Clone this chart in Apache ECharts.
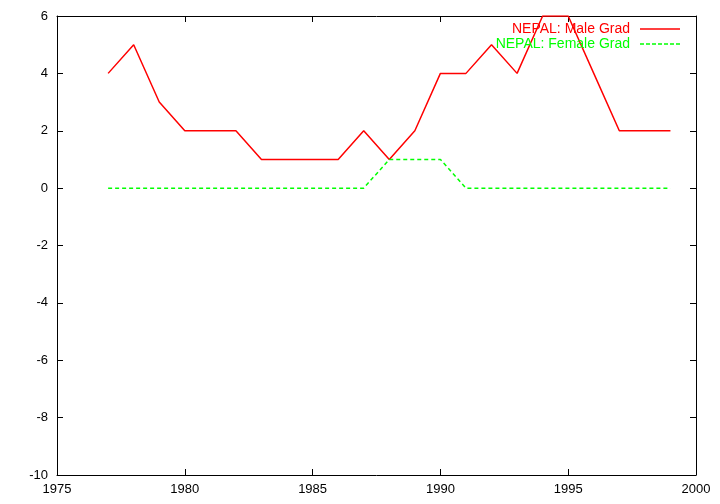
<!DOCTYPE html>
<html><head><meta charset="utf-8">
<script src="https://cdn.jsdelivr.net/npm/echarts@6/dist/echarts.min.js"></script>
<style>html,body{margin:0;padding:0;background:#fff}#c{width:720px;height:504px}</style>
</head><body><div id="c"></div>
<script>
const years = [1977,1978,1979,1980,1981,1982,1983,1984,1985,1986,1987,1988,1989,1990,1991,1992,1993,1994,1995,1996,1997,1998,1999];
const maleGrad = [4,5,3,2,2,2,1,1,1,1,2,1,2,4,4,5,4,6,6,4,2,2,2];
const femaleGrad = [0,0,0,0,0,0,0,0,0,0,0,1,1,1,0,0,0,0,0,0,0,0,0];
const seriesNames = ['NEPAL: Male Grad','NEPAL: Female Grad'];

const chart = echarts.init(document.getElementById('c'));
const font = 'Liberation Sans, Helvetica, Arial, sans-serif';
const axisCommon = {
  axisLine:{show:true,onZero:false,lineStyle:{color:'#000',width:1}},
  axisTick:{show:true,inside:true,length:6,lineStyle:{color:'#000'}},
  splitLine:{show:false}
};
const solidIcon = 'path://M0,0h40v1.6h-40z';
const dashedIcon = 'path://M0,0h4v1.6h-4z M6,0h4v1.6h-4z M12,0h4v1.6h-4z M18,0h4v1.6h-4z M24,0h4v1.6h-4z M30,0h4v1.6h-4z M36,0h4v1.6h-4z';
chart.setOption({
  animation:false,
  grid:{left:57,right:24,top:16,bottom:29,containLabel:false},
  xAxis:[
    Object.assign({type:'value',min:1975,max:2000,interval:5,position:'bottom',
      axisLabel:{color:'#000',fontFamily:font,fontSize:13,margin:8,formatter:v=>String(v)}},axisCommon),
    Object.assign({type:'value',min:1975,max:2000,interval:5,position:'top',
      axisLabel:{show:false}},axisCommon)
  ],
  yAxis:[
    Object.assign({type:'value',min:-10,max:6,interval:2,position:'left',
      axisLabel:{color:'#000',fontFamily:font,fontSize:13,margin:9}},axisCommon),
    Object.assign({type:'value',min:-10,max:6,interval:2,position:'right',
      axisLabel:{show:false}},axisCommon)
  ],
  legend:{
    right:40,top:22,orient:'vertical',align:'right',itemGap:1,itemWidth:40,itemHeight:14,
    padding:0,
    textStyle:{fontFamily:font,fontSize:14,padding:[0,5,0,0]},
    data:[
      {name:seriesNames[0],icon:solidIcon,textStyle:{color:'#ff0000'}},
      {name:seriesNames[1],icon:dashedIcon,textStyle:{color:'#00ff00'}}
    ]
  },
  series:[
    {name:seriesNames[0],type:'line',symbol:'none',xAxisIndex:0,yAxisIndex:0,
      data:years.map((y,i)=>[y,maleGrad[i]]),
      lineStyle:{color:'#ff0000',width:1.5},itemStyle:{color:'#ff0000'}},
    {name:seriesNames[1],type:'line',symbol:'none',xAxisIndex:0,yAxisIndex:0,
      data:years.map((y,i)=>[y,femaleGrad[i]]),
      lineStyle:{color:'#00ff00',width:1.5,type:[4,3]},itemStyle:{color:'#00ff00'}}
  ]
});
</script></body></html>
